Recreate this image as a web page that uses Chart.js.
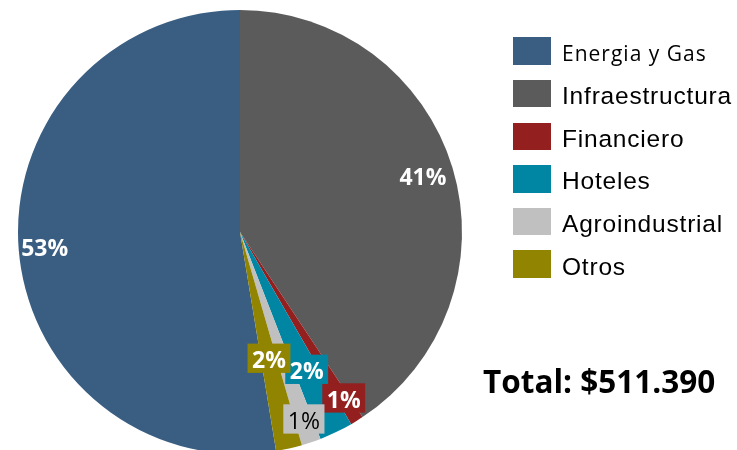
<!DOCTYPE html>
<html>
<head>
<meta charset="utf-8">
<script src="https://cdn.jsdelivr.net/npm/chart.js@4"></script>
<style>
  html, body { margin:0; padding:0; width:737px; height:450px; overflow:hidden; background:#fff; }
  #c { position:absolute; left:0; top:0; }
  .sw { position:absolute; left:513px; width:38px; height:27.5px; }
  .lt { position:absolute; left:562px; height:30px; line-height:30px; white-space:nowrap; color:#000; }
  #total { position:absolute; left:483px; top:0; font-family:"Open Sans"; font-weight:700; font-size:31.5px; line-height:40px; color:#000; white-space:nowrap; }
</style>
</head>
<body>
<canvas id="c" width="737" height="464"></canvas>
<div id="legend"></div>
<div id="total"></div>
<script>
// ---- data ----
const categories = ['Energia y Gas', 'Infraestructura', 'Financiero', 'Hoteles', 'Agroindustrial', 'Otros'];
const values = [269.0, 208.1, 4.9, 12.5, 7.2, 9.7];
const totalText = 'Total: $511.390';

// ---- styles ----
const colors = ['#3A5E82', '#5B5B5B', '#931F1F', '#0086A3', '#C0C0C0', '#918400'];
const labelRadius = [196, 191, 197, 154, 199, 131];
const labelBoxed = [false, false, true, true, true, true];
const labelColor = ['#fff', '#fff', '#fff', '#fff', '#000', '#fff'];
const labelWeight = ['700', '700', '700', '700', '400', '700'];

const sum = values.reduce((a, b) => a + b, 0);
const rotation = 360 - values[0] / sum * 360;

const labelPlugin = {
  id: 'pctLabels',
  afterDatasetsDraw(chart) {
    const ctx = chart.ctx;
    const meta = chart.getDatasetMeta(0);
    meta.data.forEach((arc, i) => {
      const pct = Math.round(values[i] / sum * 100) + '%';
      const mid = (arc.startAngle + arc.endAngle) / 2;
      const x = arc.x + labelRadius[i] * Math.cos(mid);
      const y = arc.y + labelRadius[i] * Math.sin(mid);
      const fs = 23;
      ctx.save();
      ctx.font = labelWeight[i] + ' ' + fs + 'px "Open Sans"';
      const w = ctx.measureText(pct).width;
      if (labelBoxed[i]) {
        ctx.fillStyle = colors[i];
        const bw = w + 9, bh = 29.3;
        ctx.fillRect(x - bw / 2, y - 1.5 - bh / 2, bw, bh);
      }
      ctx.fillStyle = labelColor[i];
      ctx.textAlign = 'center';
      ctx.textBaseline = 'alphabetic';
      ctx.fillText(pct, x, y + 0.357 * fs);
      ctx.restore();
    });
  }
};

new Chart(document.getElementById('c'), {
  type: 'pie',
  data: {
    labels: categories,
    datasets: [{
      data: values,
      backgroundColor: colors,
      borderWidth: 0,
      hoverOffset: 0
    }]
  },
  options: {
    responsive: false,
    animation: false,
    rotation: rotation,
    layout: { padding: { left: 18, top: 10, right: 275, bottom: 10 } },
    plugins: { legend: { display: false }, tooltip: { enabled: false } },
    events: []
  },
  plugins: [labelPlugin]
});

// legend
const legend = document.getElementById('legend');
categories.forEach((c, i) => {
  const top = 37.3 + i * 42.6;
  const sw = document.createElement('div');
  sw.className = 'sw';
  sw.style.top = top + 'px';
  sw.style.background = colors[i];
  legend.appendChild(sw);
  const t = document.createElement('div');
  t.className = 'lt';
  t.textContent = c;
  if (i === 0) {
    t.style.fontFamily = '"Open Sans"';
    t.style.fontSize = '21px';
    t.style.letterSpacing = '1px';
    t.style.top = (top + 0.3) + 'px';
  } else {
    t.style.fontFamily = '"Liberation Sans", Arial';
    t.style.fontSize = '24.5px';
    t.style.letterSpacing = '0.8px';
    t.style.top = (top + 1.3) + 'px';
  }
  legend.appendChild(t);
});
const tot = document.getElementById('total');
tot.textContent = totalText;
// baseline at 393.3: Open Sans ascent 1.069, descent .293
(function(){
  const F = 31.5, L = 40;
  const base = (L - 1.362 * F) / 2 + 1.069 * F;
  tot.style.top = (393.3 - base) + 'px';
})();
</script>
</body>
</html>
